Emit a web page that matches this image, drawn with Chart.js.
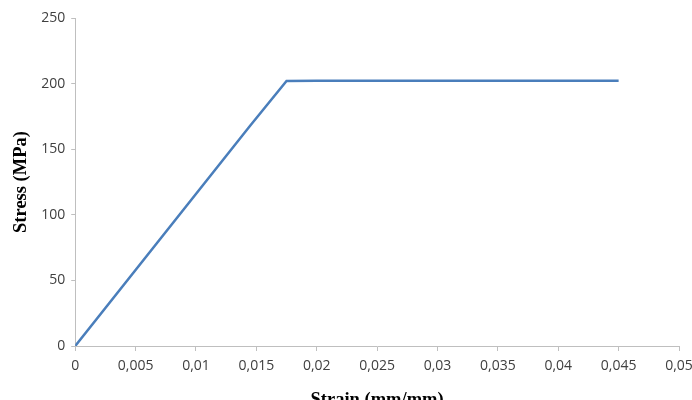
<!DOCTYPE html>
<html>
<head>
<meta charset="utf-8">
<script src="https://cdn.jsdelivr.net/npm/chart.js@4.4.1/dist/chart.umd.min.js"></script>
<style>
  html, body { margin: 0; padding: 0; background: #fff; overflow: hidden; }
  #wrap { width: 692px; height: 400px; overflow: hidden; position: relative; }
  #box { position: absolute; left: 0; top: 0; width: 730px; height: 415px; }
</style>
</head>
<body>
<div id="wrap">
  <div id="box"><canvas id="stressChart"></canvas></div>
</div>
<script>
// Stress-strain curve
const strain = [0, 0.0145, 0.0175, 0.02, 0.045];
const stress = [0, 168, 202, 202.2, 202.2];

const xTicks = [0, 0.005, 0.01, 0.015, 0.02, 0.025, 0.03, 0.035, 0.04, 0.045, 0.05];
const yTicks = [0, 50, 100, 150, 200, 250];

const commaFmt = v => String(Number(v.toFixed(3))).replace('.', ',');

document.addEventListener('DOMContentLoaded', function () {
    const ctx = document.getElementById('stressChart').getContext('2d');
    const points = strain.map((s, i) => ({ x: s, y: stress[i] }));

    new Chart(ctx, {
        type: 'line',
        data: {
            datasets: [{
                label: 'Stress',
                data: points,
                borderColor: '#4a7ebb',
                borderWidth: 2.5,
                pointRadius: 0,
                fill: false,
                tension: 0
            }]
        },
        options: {
            responsive: true,
            maintainAspectRatio: false,
            animation: false,
            layout: { padding: { left: 6, top: 18, right: 51, bottom: 0 } },
            plugins: {
                legend: { display: false },
                tooltip: { enabled: false }
            },
            scales: {
                x: {
                    type: 'linear',
                    min: 0,
                    max: 0.05,
                    afterBuildTicks: axis => { axis.ticks = xTicks.map(v => ({ value: v })); },
                    ticks: {
                        callback: v => commaFmt(v),
                        color: '#404040',
                        font: { family: 'Open Sans', size: 14 },
                        maxRotation: 0,
                        padding: 7
                    },
                    grid: { drawOnChartArea: false, tickLength: 5, color: '#bfbfbf' },
                    border: { color: '#bfbfbf', width: 1 },
                    title: {
                        display: true,
                        text: 'Strain (mm/mm)',
                        color: '#000',
                        font: { family: 'Liberation Serif', size: 18.5, weight: 'bold' },
                        padding: { top: 7 }
                    }
                },
                y: {
                    min: 0,
                    max: 250,
                    afterBuildTicks: axis => { axis.ticks = yTicks.map(v => ({ value: v })); },
                    ticks: {
                        color: '#404040',
                        font: { family: 'Open Sans', size: 14 },
                        padding: 6
                    },
                    grid: { drawOnChartArea: false, tickLength: 4, color: '#bfbfbf' },
                    border: { color: '#bfbfbf', width: 1 },
                    title: {
                        display: true,
                        text: 'Stress (MPa)',
                        color: '#000',
                        font: { family: 'Liberation Serif', size: 18.5, weight: 'bold' },
                        padding: { bottom: 3 }
                    }
                }
            }
        }
    });
});
</script>
</body>
</html>
